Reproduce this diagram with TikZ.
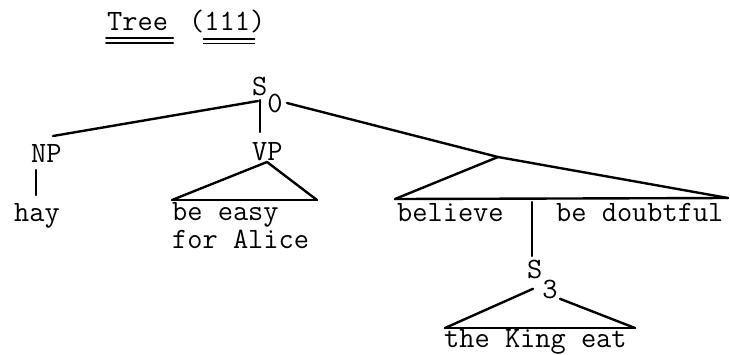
\documentclass[tikz,border=0pt]{standalone}
\begin{document}
\begin{tikzpicture}[line width=1.7pt, line cap=round, line join=round,
  word/.style = {anchor=base west, inner sep=0pt, font=\ttfamily\fontsize{21}{25}\selectfont}]
      \useasboundingbox (0,0) rectangle (18.25,-8.85);

      \node[word] (tree)     at (2.65,-0.75)   {Tree};
      \node[word] (num)      at (4.7,-0.75)    {(111)};
      \node[word] (s0)       at (6.275,-2.375) {S\raisebox{-0.425cm}{0}};
      \node[word] (np)       at (0.75,-4.05)   {NP};
      \node[word] (vp)       at (6.275,-4.0)   {VP};
      \node[word] (hay)      at (0.325,-5.525) {hay};
      \node[word] (easy)     at (4.275,-5.5)   {be easy};
      \node[word] (alice)    at (4.275,-6.2)   {for Alice};
      \node[word] (believe)  at (9.9,-5.525)   {believe};
      \node[word] (doubtful) at (13.875,-5.525) {be doubtful};
      \node[word] (s3)       at (13.15,-6.97)  {S\raisebox{-0.5cm}{3}};
      \node[word] (king)     at (11.075,-8.68) {the King eat};

      % branch points
      \coordinate (s0l)  at (6.45,-2.525);
      \coordinate (s0d)  at (6.5,-2.5);
      \coordinate (s0r)  at (7.175,-2.575);
      \coordinate (npt)  at (1.325,-3.4);
      \coordinate (vpd)  at (6.5,-3.3);
      \coordinate (npb)  at (0.9,-4.25);
      \coordinate (hayt) at (0.9,-4.875);
      \coordinate (vpt)  at (6.675,-4.05);
      \coordinate (vpl)  at (4.3,-5.0);
      \coordinate (vpr)  at (7.925,-5.0);
      \coordinate (br)   at (12.45,-3.925);
      \coordinate (brl)  at (9.875,-4.975);
      \coordinate (brr)  at (18.2,-4.95);
      \coordinate (brd)  at (13.3,-5.05);
      \coordinate (s3u)  at (13.3,-6.4);
      \coordinate (s3l)  at (13.325,-7.22);
      \coordinate (s3r)  at (14.0,-7.47);
      \coordinate (kingl) at (11.125,-8.2);
      \coordinate (kingr) at (15.875,-8.2);

      \path[-]
      (s0l)  edge (npt)
      (s0d)  edge (vpd)
      (npb)  edge (hayt)
      (vpt)  edge (vpl)
      (vpt)  edge (vpr)
      (vpl)  edge (vpr)
      (s0r)  edge (br)
      (br)   edge (brr)
      (br)   edge (brl)
      (brl)  edge (brr)
      (brd)  edge (s3u)
      (s3l)  edge (kingl)
      (s3r)  edge (kingr)
      (kingl) edge (kingr);

      % double underlines of the title
      \draw[line width=1.2pt] ([yshift=-0.2cm]tree.base west) -- ([yshift=-0.2cm,xshift=0.1cm]tree.base east);
      \draw[line width=1.2pt] ([yshift=-0.32cm]tree.base west) -- ([yshift=-0.32cm,xshift=0.1cm]tree.base east);
      \draw[line width=1.2pt] ([yshift=-0.22cm,xshift=0.39cm]num.base west) -- ([yshift=-0.22cm,xshift=-0.3cm]num.base east);
      \draw[line width=1.2pt] ([yshift=-0.34cm,xshift=0.39cm]num.base west) -- ([yshift=-0.34cm,xshift=-0.3cm]num.base east);
\end{tikzpicture}
\end{document}
